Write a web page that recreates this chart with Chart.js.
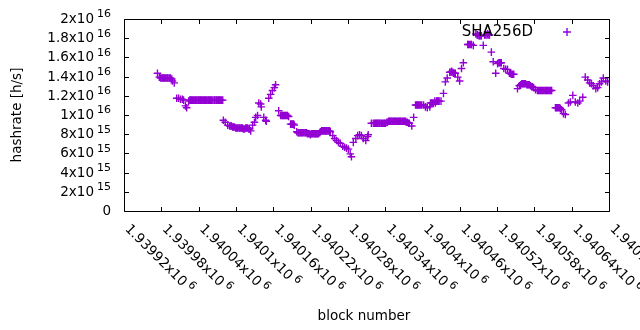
<!DOCTYPE html>
<html>
<head>
<meta charset="utf-8">
<script src="https://cdn.jsdelivr.net/npm/chart.js@4/dist/chart.umd.min.js"></script>
<style>
html,body{margin:0;padding:0;background:#fff;}
#wrap{width:640px;height:330px;position:relative;}
</style>
</head>
<body>
<div id="wrap"><canvas id="c" width="640" height="330"></canvas></div>
<script>
const seriesName = "SHA256D";
const blocks = [
1939973,1939976,1939980,1939983,1939986,1939989,1939992,1939996,1939997,1940000,
1940004,1940007,1940010,1940013,1940015,1940018,1940020,1940023,1940026,1940029,1940033,1940036,1940039,1940042,1940045,1940049,1940052,1940055,1940058,1940062,1940065,1940068,1940071,1940074,1940078,
1940079,1940082,1940086,1940089,1940092,1940095,1940099,1940102,1940105,1940108,1940111,1940115,1940118,1940121,1940123,1940126,1940129,1940131,1940134,1940136,1940139,1940140,1940144,1940147,1940148,
1940152,1940155,1940158,1940161,1940163,1940168,1940171,1940174,1940177,1940181,1940184,1940187,1940190,1940193,1940197,1940200,1940203,1940206,1940210,1940213,1940216,1940219,1940222,1940226,1940229,1940232,1940235,1940238,1940242,1940245,1940248,1940251,
1940255,1940258,1940261,1940264,1940267,1940271,1940274,1940277,1940280,1940283,1940285,1940288,1940292,1940295,1940298,1940301,1940304,1940308,1940311,1940312,1940317,
1940320,1940324,1940327,1940330,1940333,1940337,1940340,1940343,1940346,1940349,1940353,1940356,1940359,1940362,1940365,1940369,1940372,1940375,1940378,1940382,1940385,1940388,1940391,1940394,1940398,1940401,1940404,1940407,1940411,1940414,1940417,1940420,1940423,1940426,1940429,1940433,1940436,1940439,1940443,1940446,1940449,1940452,1940456,1940459,1940462,1940465,
1940472,1940475,1940478,1940481,1940485,1940488,1940491,1940494,1940497,1940501,1940504,1940507,1940510,1940513,1940517,1940520,1940523,1940526,1940530,1940533,1940536,1940539,1940542,1940546,
1940552,1940555,1940559,1940562,1940565,1940568,1940571,1940575,1940578,1940581,1940584,1940587,1940591,1940594,1940597,1940600,1940604,1940607,
1940613,1940616,1940620,1940623,1940626,1940629,1940634,1940637,1940641,1940645,1940649,1940652,1940657,
1940661,1940665,1940668,1940671,1940674,1940678,1940681,1940684,1940687,1940690,1940694,1940697,
// further readings inside the dense runs
1939978,1939981,1939984,1939987,1939990,1939994,
1940025,1940028,1940031,1940034,1940038,1940041,1940044,1940047,1940050,1940054,1940057,1940060,1940064,1940067,1940070,1940073,1940076,
1940091,1940094,1940097,1940100,1940104,1940107,1940110,1940113,1940116,1940120,
1940173,1940176,1940179,1940182,1940189,1940192,
1940199,1940202,1940205,1940208,1940211,1940214,1940218,1940221,1940224,1940227,1940230,1940234,1940237,1940240,1940243,1940246,1940250,
1940322,1940325,1940328,1940331,1940335,1940338,1940342,1940345,1940348,1940351,1940354,1940357,1940361,1940364,1940367,1940370,1940373,1940377,
1940390,1940393,1940396,1940412,1940415,1940419,1940422,1940425,
1940445,1940448,1940451,
1940473,1940477,1940487,1940490,1940493,1940499,1940503,1940506,
1940522,1940525,1940541,1940544,
1940557,1940560,1940563,1940567,1940570,1940573,1940576,1940586,1940589,1940592,1940596,1940599,1940602,1940605,
1940615,1940618,1940621
];
const hashrate = [
14.4e15,14.0e15,13.9e15,13.9e15,13.9e15,13.9e15,13.9e15,13.8e15,13.6e15,13.4e15,
11.8e15,11.8e15,11.7e15,11.7e15,11.6e15,11.0e15,10.8e15,11.5e15,11.6e15,11.6e15,11.6e15,11.6e15,11.6e15,11.6e15,11.6e15,11.6e15,11.6e15,11.6e15,11.6e15,11.6e15,11.6e15,11.6e15,11.6e15,11.6e15,11.6e15,
9.5e15,9.3e15,9.0e15,8.9e15,8.9e15,8.8e15,8.7e15,8.7e15,8.7e15,8.7e15,8.6e15,8.7e15,8.7e15,8.6e15,8.4e15,9.0e15,9.3e15,9.8e15,10.0e15,11.3e15,11.2e15,10.9e15,9.8e15,9.5e15,9.4e15,
11.8e15,12.2e15,12.6e15,12.9e15,13.2e15,10.5e15,10.0e15,10.0e15,10.0e15,10.0e15,9.9e15,9.1e15,9.1e15,9.0e15,8.3e15,8.2e15,8.2e15,8.2e15,8.2e15,8.2e15,8.1e15,8.0e15,8.1e15,8.1e15,8.1e15,8.1e15,8.3e15,8.4e15,8.4e15,8.4e15,8.4e15,8.3e15,
7.9e15,7.6e15,7.4e15,7.2e15,7.1e15,6.8e15,6.7e15,6.6e15,6.5e15,6.0e15,5.7e15,7.2e15,7.6e15,7.9e15,8.0e15,7.9e15,7.6e15,7.4e15,7.8e15,8.0e15,9.2e15,
9.2e15,9.2e15,9.2e15,9.2e15,9.2e15,9.2e15,9.2e15,9.3e15,9.4e15,9.4e15,9.4e15,9.4e15,9.4e15,9.4e15,9.4e15,9.4e15,9.4e15,9.3e15,9.2e15,8.9e15,9.8e15,11.1e15,11.1e15,11.1e15,11.1e15,11.1e15,10.9e15,10.8e15,10.9e15,11.3e15,11.3e15,11.3e15,11.5e15,11.5e15,11.5e15,12.3e15,13.5e15,13.9e15,14.5e15,14.6e15,14.4e15,14.4e15,14.0e15,13.6e15,14.9e15,15.5e15,
17.4e15,17.4e15,17.4e15,17.3e15,18.5e15,18.4e15,18.3e15,18.3e15,17.3e15,18.4e15,18.5e15,18.4e15,16.6e15,15.6e15,14.4e15,15.4e15,15.5e15,15.5e15,14.9e15,14.8e15,14.8e15,14.4e15,14.3e15,14.3e15,
12.8e15,13.1e15,13.3e15,13.3e15,13.3e15,13.2e15,13.2e15,13.0e15,12.9e15,12.7e15,12.6e15,12.6e15,12.6e15,12.6e15,12.6e15,12.6e15,12.6e15,12.6e15,
10.8e15,10.8e15,10.8e15,10.6e15,10.2e15,10.1e15,11.3e15,11.4e15,12.1e15,11.4e15,11.3e15,11.5e15,11.9e15,
14.0e15,13.7e15,13.4e15,13.3e15,13.1e15,12.8e15,12.9e15,13.3e15,13.5e15,13.9e15,13.6e15,13.5e15,
// further readings inside the dense runs
13.9e15,13.9e15,13.9e15,13.9e15,13.9e15,13.9e15,
11.6e15,11.6e15,11.6e15,11.6e15,11.6e15,11.6e15,11.6e15,11.6e15,11.6e15,11.6e15,11.6e15,11.6e15,11.6e15,11.6e15,11.6e15,11.6e15,11.6e15,
8.9e15,8.8e15,8.8e15,8.7e15,8.7e15,8.7e15,8.7e15,8.6e15,8.7e15,8.6e15,
10.0e15,10.0e15,10.0e15,10.0e15,9.1e15,9.1e15,
8.2e15,8.2e15,8.2e15,8.2e15,8.2e15,8.1e15,8.1e15,8.1e15,8.1e15,8.1e15,8.1e15,8.2e15,8.4e15,8.4e15,8.4e15,8.4e15,8.4e15,
9.2e15,9.2e15,9.2e15,9.2e15,9.2e15,9.2e15,9.3e15,9.4e15,9.4e15,9.4e15,9.4e15,9.4e15,9.4e15,9.4e15,9.4e15,9.4e15,9.3e15,9.2e15,
11.1e15,11.1e15,11.1e15,11.3e15,11.3e15,11.5e15,11.5e15,11.5e15,
14.5e15,14.5e15,14.4e15,
17.4e15,17.4e15,18.4e15,18.3e15,18.3e15,18.4e15,18.4e15,18.4e15,
15.5e15,15.5e15,14.4e15,14.3e15,
13.2e15,13.3e15,13.3e15,13.2e15,13.2e15,13.1e15,13.0e15,12.6e15,12.6e15,12.6e15,12.6e15,12.6e15,12.6e15,12.6e15,
10.8e15,10.8e15,10.7e15
];
const xTicks = [1939920,1939980,1940040,1940100,1940160,1940220,1940280,1940340,1940400,1940460,1940520,1940580,1940640,1940700];
const xTickLabels = [["1.93992x10","6"],["1.93998x10","6"],["1.94004x10","6"],["1.9401x10","6"],["1.94016x10","6"],["1.94022x10","6"],["1.94028x10","6"],["1.94034x10","6"],["1.9404x10","6"],["1.94046x10","6"],["1.94052x10","6"],["1.94058x10","6"],["1.94064x10","6"],["1.9407x10","6"]];
const yTicks = [0,2e15,4e15,6e15,8e15,1e16,1.2e16,1.4e16,1.6e16,1.8e16,2e16];
const yTickLabels = [["0",""],["2x10","15"],["4x10","15"],["6x10","15"],["8x10","15"],["1x10","16"],["1.2x10","16"],["1.4x10","16"],["1.6x10","16"],["1.8x10","16"],["2x10","16"]];
const xTitle = "block number";
const yTitle = "hashrate [h/s]";

const COLOR = "#9400d3";
const FONT = "DejaVu Sans";
const TICKFS = 13.5, SUPFS = 11, TITLEFS = 13.5;

const data = {
  datasets: [{
    label: seriesName,
    data: blocks.map((b, i) => ({x: b, y: hashrate[i]})),
    showLine: false,
    pointStyle: "cross",
    pointRadius: 3.8,
    pointBorderWidth: 1.4,
    borderColor: COLOR,
    backgroundColor: COLOR
  }]
};

const overlay = {
  id: "overlay",
  afterDraw(chart) {
    const ctx = chart.ctx;
    const xs = chart.scales.x, ys = chart.scales.y;
    const L = chart.chartArea.left, R = chart.chartArea.right, T = chart.chartArea.top, B = chart.chartArea.bottom;
    ctx.save();
    ctx.strokeStyle = "#000";
    ctx.lineWidth = 1;
    ctx.beginPath();
    ctx.rect(L, T, R - L, B - T);
    ctx.stroke();
    const TL = 4.5;
    ctx.beginPath();
    yTicks.forEach(v => {
      const y = Math.round(ys.getPixelForValue(v) - 0.5) + 0.5;
      ctx.moveTo(L, y); ctx.lineTo(L + TL, y);
      ctx.moveTo(R, y); ctx.lineTo(R - TL, y);
    });
    xTicks.forEach(v => {
      const x = Math.round(xs.getPixelForValue(v) - 0.5) + 0.5;
      ctx.moveTo(x, B); ctx.lineTo(x, B - TL);
      ctx.moveTo(x, T); ctx.lineTo(x, T + TL);
    });
    ctx.stroke();

    ctx.fillStyle = "#000";
    yTicks.forEach((v, i) => {
      const y = ys.getPixelForValue(v);
      const [base, sup] = yTickLabels[i];
      const rightX = 111;
      ctx.textBaseline = "middle";
      ctx.textAlign = "right";
      if (sup) {
        ctx.font = SUPFS + "px '" + FONT + "'";
        ctx.fillText(sup, rightX, y - 5);
        const sw = ctx.measureText(sup).width;
        ctx.font = TICKFS + "px '" + FONT + "'";
        ctx.fillText(base, rightX - sw - 3, y);
      } else {
        ctx.font = TICKFS + "px '" + FONT + "'";
        ctx.fillText(base, rightX, y);
      }
    });
    xTicks.forEach((v, i) => {
      const x = xs.getPixelForValue(v);
      const [base, sup] = xTickLabels[i];
      ctx.save();
      ctx.translate(x, B + 18);
      ctx.rotate(Math.PI / 4);
      ctx.textAlign = "left";
      ctx.textBaseline = "alphabetic";
      ctx.font = TICKFS + "px '" + FONT + "'";
      ctx.fillText(base, 0, 0);
      const bw = ctx.measureText(base).width;
      ctx.font = SUPFS + "px '" + FONT + "'";
      ctx.fillText(sup, bw + 3, -5);
      ctx.restore();
    });
    ctx.font = TITLEFS + "px '" + FONT + "'";
    ctx.textAlign = "center";
    ctx.textBaseline = "middle";
    ctx.fillText(xTitle, 364, 316);
    ctx.save();
    ctx.translate(17, 115);
    ctx.rotate(-Math.PI / 2);
    ctx.fillText(yTitle, 0, 0);
    ctx.restore();
    ctx.font = "15px '" + FONT + "'";
    ctx.textAlign = "right";
    ctx.fillText(seriesName, 533, 32);
    ctx.strokeStyle = COLOR;
    ctx.lineWidth = 1.4;
    ctx.beginPath();
    ctx.moveTo(563, 32); ctx.lineTo(571, 32);
    ctx.moveTo(567, 28); ctx.lineTo(567, 36);
    ctx.stroke();
    ctx.restore();
  }
};

new Chart(document.getElementById("c"), {
  type: "scatter",
  data: data,
  options: {
    responsive: false,
    animation: false,
    devicePixelRatio: 1,
    layout: {padding: {left: 0, right: 30.5, top: 19.5, bottom: 0}},
    plugins: {legend: {display: false}, tooltip: {enabled: false}},
    scales: {
      x: {
        type: "linear", min: xTicks[0], max: xTicks[xTicks.length - 1],
        grid: {display: false}, border: {display: false},
        ticks: {display: false},
        afterFit(s) { s.height = 118.5; }
      },
      y: {
        type: "linear", min: yTicks[0], max: yTicks[yTicks.length - 1],
        grid: {display: false}, border: {display: false},
        ticks: {display: false},
        afterFit(s) { s.width = 124.5; }
      }
    }
  },
  plugins: [overlay]
});
</script>
</body>
</html>
